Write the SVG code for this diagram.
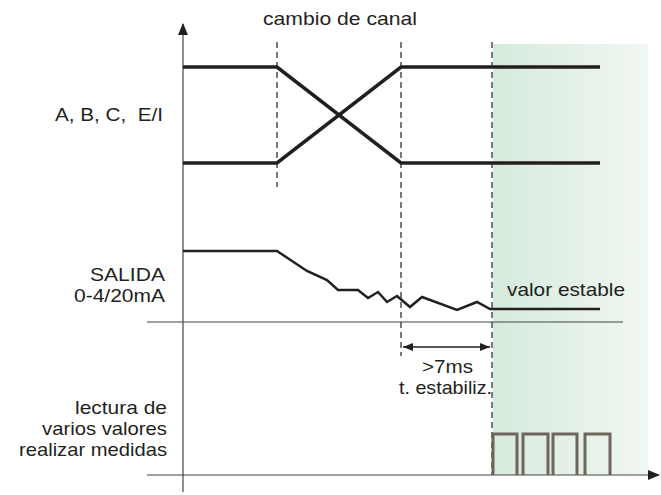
<svg xmlns="http://www.w3.org/2000/svg" width="661" height="495" viewBox="0 0 661 495">
<defs>
<linearGradient id="gz" x1="0" y1="0" x2="1" y2="0">
<stop offset="0" stop-color="#d6eadc"/>
<stop offset="1" stop-color="#f1f7f2"/>
</linearGradient>
<marker id="ah" markerWidth="12" markerHeight="10" refX="11" refY="5" orient="auto" markerUnits="userSpaceOnUse">
<path d="M0,0 L12,5 L0,10 Z" fill="#231f20"/>
</marker>
<marker id="sh" markerWidth="10" markerHeight="8" refX="10" refY="4" orient="auto-start-reverse" markerUnits="userSpaceOnUse">
<path d="M0,0 L10,4 L0,8 Z" fill="#231f20"/>
</marker>
</defs>
<style>
text{font-family:"Liberation Sans",Arial,sans-serif;font-size:19px;fill:#231f20;white-space:pre}
.ax{stroke:#444;stroke-width:1.2;fill:none}
.dash{stroke:#231f20;stroke-width:1.2;stroke-dasharray:6 4;fill:none}
.sig{stroke:#231f20;stroke-width:3.5;fill:none;stroke-linejoin:miter}
.out{stroke:#231f20;stroke-width:2.5;fill:none;stroke-linejoin:miter}
.pulse{stroke:#6e655d;stroke-width:3;fill:none}
</style>
<rect id="zone" x="493" y="44" width="155" height="431" fill="url(#gz)"/>
<g id="connectors">
<line class="ax" x1="183" y1="492" x2="183" y2="24" marker-end="url(#ah)"/>
<line class="ax" x1="147" y1="322" x2="623" y2="322"/>
<line class="ax" x1="147" y1="475" x2="659" y2="475" marker-end="url(#ah)"/>
<line class="dash" x1="277" y1="42" x2="277" y2="187"/>
<line class="dash" x1="401" y1="42" x2="401" y2="356"/>
<line class="dash" x1="492" y1="42" x2="492" y2="475"/>
<polyline class="sig" points="183,67 277,67 401,163 600,163"/>
<polyline class="sig" points="183,163 277,163 401,67 600,67"/>
<polyline class="out" points="183,251 277,251 307,271 327,280 338,290 358,290 368,298 378,292 387,302 397,296 410,307 422,297 457,310 477,302 490,309 600,309"/>
<line x1="403" y1="347" x2="490" y2="347" stroke="#231f20" stroke-width="1.5" marker-start="url(#sh)" marker-end="url(#sh)"/>
<path class="pulse" d="M493,475 V434 H517 V475 M523,475 V434 H548 V475 M553,475 V434 H577 V475 M585,475 V434 H610 V475"/>
</g>
<g id="label-cambio"><text x="263" y="25" textLength="154" lengthAdjust="spacingAndGlyphs">cambio de canal</text></g>
<g id="label-abc"><text x="55" y="121" textLength="108" lengthAdjust="spacingAndGlyphs" xml:space="preserve">A, B, C,  E/I</text></g>
<g id="label-salida">
<text x="90" y="281" textLength="75" lengthAdjust="spacingAndGlyphs">SALIDA</text>
<text x="74" y="302" textLength="91" lengthAdjust="spacingAndGlyphs">0-4/20mA</text>
</g>
<g id="label-valor"><text x="507" y="296" textLength="118" lengthAdjust="spacingAndGlyphs">valor estable</text></g>
<g id="label-tiempo">
<text x="422" y="373" textLength="51" lengthAdjust="spacingAndGlyphs">&gt;7ms</text>
<text x="399" y="394" textLength="93" lengthAdjust="spacingAndGlyphs">t. estabiliz.</text>
</g>
<g id="label-lectura">
<text x="75" y="414" textLength="92" lengthAdjust="spacingAndGlyphs">lectura de</text>
<text x="42" y="435" textLength="125" lengthAdjust="spacingAndGlyphs">varios valores</text>
<text x="19" y="456" textLength="148" lengthAdjust="spacingAndGlyphs">realizar medidas</text>
</g>
</svg>
